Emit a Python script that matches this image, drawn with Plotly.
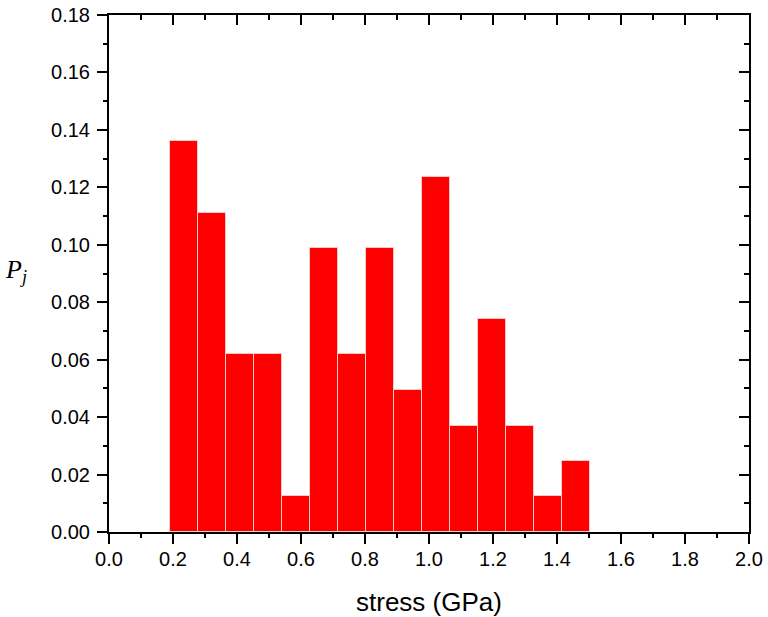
import plotly.graph_objects as go

# bin centres (GPa) and probabilities
bin_centers = [0.235, 0.323, 0.410, 0.498, 0.585, 0.673, 0.760, 0.848,
               0.935, 1.023, 1.110, 1.198, 1.285, 1.373, 1.460]
bin_width = 0.0875
probabilities = [0.136, 0.111, 0.062, 0.062, 0.0124, 0.099, 0.062, 0.099,
                 0.0494, 0.1235, 0.037, 0.0741, 0.037, 0.0124, 0.0247]

x_ticks = [0.0, 0.2, 0.4, 0.6, 0.8, 1.0, 1.2, 1.4, 1.6, 1.8, 2.0]
x_labels = ["0.0", "0.2", "0.4", "0.6", "0.8", "1.0", "1.2", "1.4", "1.6", "1.8", "2.0"]
y_ticks = [0.00, 0.02, 0.04, 0.06, 0.08, 0.10, 0.12, 0.14, 0.16, 0.18]
y_labels = ["0.00", "0.02", "0.04", "0.06", "0.08", "0.10", "0.12", "0.14", "0.16", "0.18"]

font_family = "Liberation Sans, Arial, sans-serif"

fig = go.Figure()
fig.add_trace(go.Bar(
    x=bin_centers, y=probabilities, width=bin_width,
    marker=dict(color="#ff0000", line=dict(color="#ffc8c8", width=1)),
    showlegend=False, hoverinfo="x+y",
))
# invisible trace carrying the mirrored top/right axes
fig.add_trace(go.Scatter(x=[0, 2], y=[0, 0.18], xaxis="x2", yaxis="y2",
                         mode="markers", marker=dict(opacity=0),
                         showlegend=False, hoverinfo="skip"))

axis_common = dict(showgrid=False, zeroline=False, showline=True,
                   linecolor="black", linewidth=2, tickcolor="black",
                   tickwidth=2, automargin=False)

fig.update_layout(
    width=768, height=617,
    margin=dict(l=109, r=19, t=15, b=85),
    paper_bgcolor="white", plot_bgcolor="white",
    font=dict(family=font_family, color="black"),
    bargap=0,
    xaxis=dict(range=[0, 2.0], tickvals=x_ticks, ticktext=x_labels,
               ticks="outside", ticklen=10, ticklabelstandoff=-2,
               tickfont=dict(size=20, family=font_family),
               minor=dict(ticks="outside", ticklen=4, dtick=0.1, tick0=0,
                          tickcolor="black", tickwidth=2),
               **axis_common),
    yaxis=dict(range=[0, 0.18], tickvals=y_ticks, ticktext=y_labels,
               ticks="outside", ticklen=10, ticklabelstandoff=3,
               tickfont=dict(size=20, family=font_family),
               minor=dict(ticks="outside", ticklen=4, dtick=0.01, tick0=0,
                          tickcolor="black", tickwidth=2),
               **axis_common),
    xaxis2=dict(range=[0, 2.0], overlaying="x", side="top", tickvals=x_ticks,
                showticklabels=False, ticks="inside", ticklen=10,
                minor=dict(ticks="inside", ticklen=5, dtick=0.1, tick0=0,
                           tickcolor="black", tickwidth=2),
                **axis_common),
    yaxis2=dict(range=[0, 0.18], overlaying="y", side="right", anchor="x2",
                tickvals=y_ticks, showticklabels=False, ticks="inside", ticklen=10,
                minor=dict(ticks="inside", ticklen=5, dtick=0.01, tick0=0,
                           tickcolor="black", tickwidth=2),
                **axis_common),
    annotations=[
        dict(text="<i>P</i><sub><i>j</i></sub>", xref="paper", yref="paper",
             x=-0.145, y=0.505, xanchor="center", yanchor="middle", showarrow=False,
             font=dict(size=26, family="Liberation Serif, Times New Roman, serif")),
        dict(text="stress (GPa)", xref="paper", yref="paper",
             x=0.5, y=(532 - 602) / 517, xanchor="center", yanchor="middle",
             showarrow=False, font=dict(size=26, family=font_family)),
    ],
)

fig.write_html("out.html")
